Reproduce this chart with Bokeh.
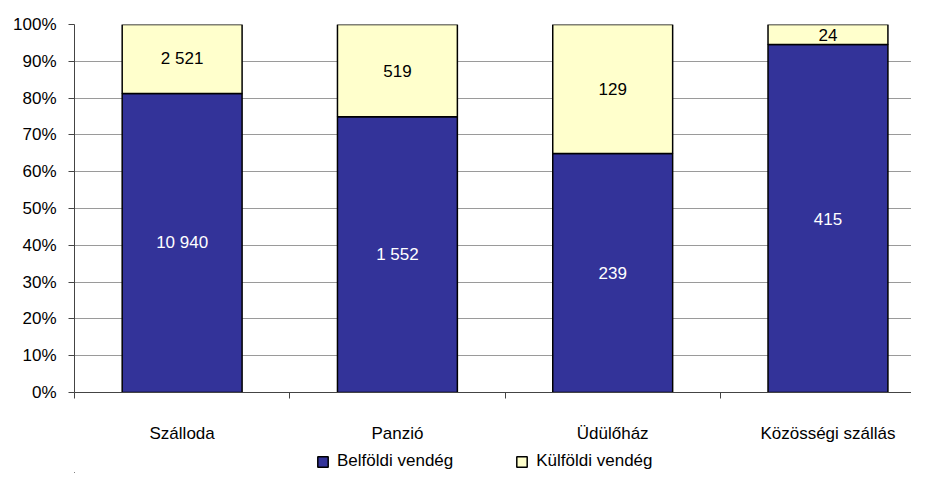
from bokeh.plotting import figure
from bokeh.layouts import column
from bokeh.models import (Range1d, FixedTicker, ColumnDataSource, Legend, LegendItem,
                          LabelSet)
from bokeh.core.properties import value
from bokeh.embed import file_html
from bokeh.resources import INLINE

categories = ["Szálloda", "Panzió", "Üdülőház", "Közösségi szállás"]
belfoldi = [10940, 1552, 239, 415]
kulfoldi = [2521, 519, 129, 24]
series_names = ["Belföldi vendég", "Külföldi vendég"]
y_ticks = [0, 0.1, 0.2, 0.3, 0.4, 0.5, 0.6, 0.7, 0.8, 0.9, 1.0]
y_tick_labels = ["0%", "10%", "20%", "30%", "40%", "50%", "60%", "70%", "80%", "90%", "100%"]

FONT = "Liberation Sans"
BLUE = "#333399"
YELLOW = "#FFFFCC"

def fmt(v):
    return f"{v:,}".replace(",", " ")

x = [i + 0.5 for i in range(len(categories))]
tot = [a + b for a, b in zip(belfoldi, kulfoldi)]
share_b = [a / t for a, t in zip(belfoldi, tot)]
src = ColumnDataSource(dict(
    x=x,
    b=share_b,
    one=[1.0] * len(x),
    b_mid=[s / 2 for s in share_b],
    k_mid=[s + (1 - s) / 2 for s in share_b],
    b_lab=[fmt(v) for v in belfoldi],
    k_lab=[fmt(v) for v in kulfoldi],
))

p = figure(width=911, height=445, output_backend="svg", toolbar_location=None,
           x_range=Range1d(0, 3.888), y_range=Range1d(0, 1),
           min_border_left=74, min_border_right=0, min_border_top=24, min_border_bottom=50)
p.outline_line_color = None
p.background_fill_color = "white"

p.vbar(x="x", bottom=0, top="b", width=0.557, source=src,
       fill_color=BLUE, line_color="black", line_width=1.5)
p.vbar(x="x", bottom="b", top="one", width=0.557, source=src,
       fill_color=YELLOW, line_color="black", line_width=1.5)

p.add_layout(LabelSet(x="x", y="b_mid", text="b_lab", source=src, text_color="white",
                      text_align="center", text_baseline="middle",
                      text_font=value(FONT), text_font_size="17px"))
p.add_layout(LabelSet(x="x", y="k_mid", text="k_lab", source=src, text_color="black",
                      text_align="center", text_baseline="middle",
                      text_font=value(FONT), text_font_size="17px"))

# y axis
p.yaxis.ticker = FixedTicker(ticks=y_ticks, minor_ticks=[])
p.yaxis.major_label_overrides = {t: l for t, l in zip(y_ticks, y_tick_labels)}
p.yaxis.major_label_text_font = FONT
p.yaxis.major_label_text_font_size = "17px"
p.yaxis.major_label_text_color = "black"
p.yaxis.major_label_standoff = 12
p.yaxis.major_tick_out = 6
p.yaxis.major_tick_in = 0
p.yaxis.axis_line_color = "#444444"
p.yaxis.major_tick_line_color = "#444444"

# x axis
p.xaxis.ticker = FixedTicker(ticks=x, minor_ticks=[0, 1, 2, 3, 4])
p.xaxis.major_label_overrides = {xx: c for xx, c in zip(x, categories)}
p.xaxis.major_label_text_font = FONT
p.xaxis.major_label_text_font_size = "17px"
p.xaxis.major_label_text_color = "black"
p.xaxis.major_tick_line_color = None
p.xaxis.major_tick_out = 0
p.xaxis.major_tick_in = 0
p.xaxis.minor_tick_out = 6
p.xaxis.minor_tick_in = 0
p.xaxis.minor_tick_line_color = "#444444"
p.xaxis.major_label_standoff = 25
p.xaxis.axis_line_color = "#444444"

p.xgrid.grid_line_color = None
p.ygrid.grid_line_color = "#9a9a9a"
p.ygrid.grid_line_width = 1

# legend strip (its bars lie outside the visible ranges; only the legend shows)
lg = figure(width=911, height=28, output_backend="svg", toolbar_location=None,
            x_range=Range1d(100, 101), y_range=Range1d(100, 101),
            x_axis_location=None, y_axis_location=None,
            min_border_left=0, min_border_right=0, min_border_top=0, min_border_bottom=0)
lg.grid.grid_line_color = None
lg.outline_line_color = None
lb = lg.vbar(x="x", top="b", width=0.5, source=src,
             fill_color=BLUE, line_color="black", line_width=1.5)
lk = lg.vbar(x="x", top="one", width=0.5, source=src,
             fill_color=YELLOW, line_color="black", line_width=1.5)
legend = Legend(items=[LegendItem(label=series_names[0], renderers=[lb]),
                       LegendItem(label=series_names[1], renderers=[lk])],
                orientation="horizontal", location=(242, 2),
                border_line_color=None, background_fill_alpha=0,
                padding=0, margin=0, spacing=62, label_standoff=8,
                glyph_width=13, glyph_height=13,
                label_text_font=FONT, label_text_font_size="17px",
                label_text_color="black")
lg.add_layout(legend, "center")

layout = column(p, lg, spacing=0)
open("out.html", "w").write(file_html(layout, INLINE))
